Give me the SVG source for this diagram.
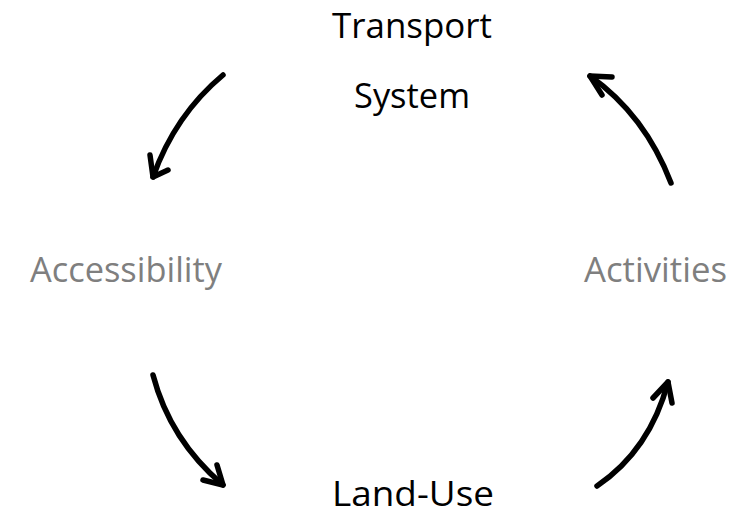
<svg xmlns="http://www.w3.org/2000/svg" width="753" height="513" viewBox="0 0 753 513">
  <style>
    .lbl { font-family: "Open Sans", "Liberation Sans", sans-serif; font-size: 35px; }
    .main { fill: #000000; }
    .soft { fill: #7f7f7f; }
    .arc { fill: none; stroke: #000000; stroke-width: 5.5; stroke-linecap: round; stroke-linejoin: round; }
  </style>
  <rect width="753" height="513" fill="#ffffff"/>

  <g id="connectors">
    <!-- Transport System to Accessibility -->
    <path class="arc" d="M223,75 Q175,115 153,177"/>
    <path class="arc" d="M150,155 L153,177 L168,170"/>
    <!-- Activities to Transport System -->
    <path class="arc" d="M671,183 Q645,115 590,76"/>
    <path class="arc" d="M602,95 L590,76 L612,77"/>
    <!-- Accessibility to Land-Use -->
    <path class="arc" d="M153,375 Q170,440 223,485"/>
    <path class="arc" d="M203,480 L223,485 L217,465"/>
    <!-- Land-Use to Activities -->
    <path class="arc" d="M597,486 Q650,450 668,382"/>
    <path class="arc" d="M653,398 L668,382 L672,403"/>
  </g>

  <g id="transport-system">
    <text class="lbl main" x="332" y="38" textLength="160" lengthAdjust="spacingAndGlyphs">Transport</text>
    <text class="lbl main" x="354" y="108" textLength="116" lengthAdjust="spacingAndGlyphs">System</text>
  </g>
  <g id="accessibility">
    <text class="lbl soft" x="30" y="282" textLength="192" lengthAdjust="spacingAndGlyphs">Accessibility</text>
  </g>
  <g id="activities">
    <text class="lbl soft" x="584" y="282" textLength="143" lengthAdjust="spacingAndGlyphs">Activities</text>
  </g>
  <g id="land-use">
    <text class="lbl main" x="332" y="506" textLength="162" lengthAdjust="spacingAndGlyphs">Land-Use</text>
  </g>
</svg>
